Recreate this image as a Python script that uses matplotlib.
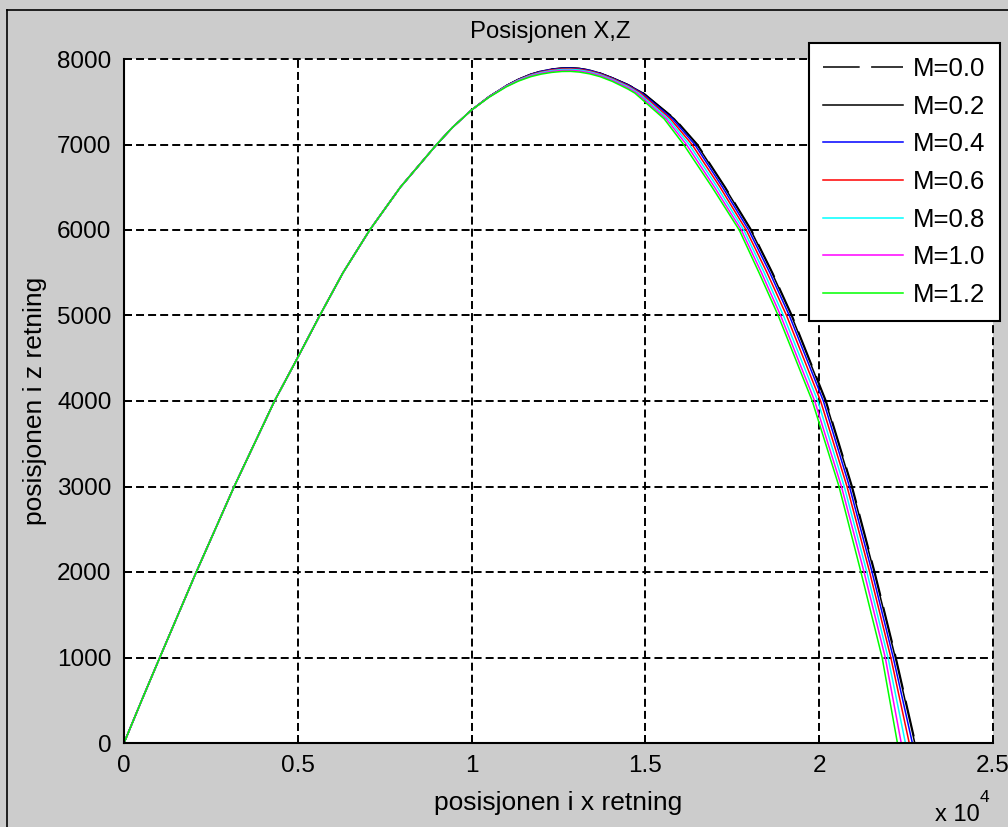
import matplotlib

matplotlib.use("Agg")

import matplotlib.pyplot as plt
from matplotlib.lines import Line2D

plt.rcParams["font.family"] = ["Liberation Sans", "DejaVu Sans"]
plt.rcParams["font.size"] = 17.5

W, H = 1008, 827
FIG_GRAY = "#cccccc"

labels = ["M=0.0", "M=0.2", "M=0.4", "M=0.6", "M=0.8", "M=1.0", "M=1.2"]
colors = ["k", "k", "#0000ff", "#ff0000", "#00ffff", "#ff00ff", "#00ff00"]
styles = [(0, (24, 7.5)), "-", "-", "-", "-", "-", "-"]

# rising part, identical for all M
asc_x = [0, 520, 1030, 2080, 3170, 4330, 5000, 5632, 6300, 7069, 7950, 8994, 9450, 10000]
asc_z = [0, 510, 1000, 2000, 3000, 4000, 4510, 5000, 5500, 6000, 6500, 7000, 7200, 7404]

# around the top (same x grid, height per M)
top_x = [10500, 11000, 11350, 11700, 12000, 12300, 12600, 12850, 13100, 13400, 13700, 14050, 14500]
top_z = [
    [7559, 7689, 7763, 7822, 7858, 7882, 7894, 7896, 7890, 7870, 7835, 7780, 7700],
    [7559, 7689, 7763, 7821, 7857, 7881, 7893, 7895, 7889, 7869, 7834, 7779, 7699],
    [7558, 7688, 7761, 7819, 7855, 7878, 7890, 7892, 7886, 7866, 7831, 7776, 7695],
    [7557, 7686, 7758, 7815, 7849, 7872, 7884, 7886, 7879, 7859, 7825, 7770, 7687],
    [7556, 7683, 7754, 7809, 7842, 7864, 7876, 7878, 7871, 7850, 7816, 7761, 7677],
    [7554, 7679, 7748, 7802, 7833, 7855, 7866, 7867, 7860, 7839, 7806, 7751, 7664],
    [7552, 7675, 7742, 7793, 7823, 7843, 7854, 7855, 7847, 7826, 7793, 7738, 7648],
]

# falling part (same heights, distance per M)
desc_z = [7600, 7300, 7000, 6500, 6000, 5500, 5000, 4000, 3000, 2000, 1000, 0]
desc_x = [
    [14950, 15850, 16500, 17300, 18050, 18660, 19220, 20200, 20950, 21600, 22210, 22770],
    [14940, 15830, 16480, 17280, 18030, 18640, 19200, 20180, 20930, 21580, 22190, 22750],
    [14900, 15780, 16420, 17220, 17970, 18580, 19140, 20120, 20870, 21520, 22130, 22680],
    [14860, 15720, 16340, 17150, 17900, 18500, 19060, 20040, 20800, 21450, 22060, 22590],
    [14810, 15660, 16260, 17070, 17830, 18420, 18970, 19960, 20720, 21370, 21980, 22480],
    [14760, 15600, 16180, 16990, 17760, 18340, 18890, 19870, 20640, 21290, 21900, 22360],
    [14700, 15540, 16100, 16920, 17700, 18270, 18820, 19800, 20570, 21200, 21810, 22250],
]

xticks = [0, 5000, 10000, 15000, 20000, 25000]
xticklabels = ["0", "0.5", "1", "1.5", "2", "2.5"]
yticks = [0, 1000, 2000, 3000, 4000, 5000, 6000, 7000, 8000]

fig = plt.figure(figsize=(W / 100, H / 100), dpi=100, facecolor=FIG_GRAY)
ax = fig.add_axes([124 / W, 1 - 743 / H, 869 / W, 684 / H])
ax.set_facecolor("white")

for i, lab in enumerate(labels):
    xs = asc_x + top_x + desc_x[i]
    zs = asc_z + top_z[i] + desc_z
    ax.plot(xs, zs, color=colors[i], linestyle=styles[i], linewidth=1.1, label=lab)

ax.set_xlim(0, 25000)
ax.set_ylim(0, 8000)
ax.set_xticks(xticks)
ax.set_xticklabels(xticklabels)
ax.set_yticks(yticks)

ax.grid(True, color="black", linestyle=(0, (4.1, 2.1)), linewidth=1.4)
for gl in ax.get_xgridlines() + ax.get_ygridlines():
    gl.set_clip_on(False)
for side in ["top", "right"]:
    ax.spines[side].set_visible(False)
for side in ["left", "bottom"]:
    ax.spines[side].set_linewidth(1.5)
ax.tick_params(direction="in", length=6, width=1.2, pad=9, colors="black", labelsize=17.5)

ax.set_title("Posisjonen X,Z", pad=15, fontsize=17.2, x=0.49)
ax.set_xlabel("posisjonen i x retning", labelpad=10, fontsize=19)
ax.set_ylabel("posisjonen i z retning", labelpad=7, fontsize=19)

fig.text(935 / W, 1 - 815 / H, "x 10", ha="left", va="center", fontsize=17)
fig.text(980 / W, 1 - 797 / H, "4", ha="left", va="center", fontsize=12.5)

leg = fig.legend(
    loc="upper left",
    bbox_to_anchor=(809 / W, 1 - 43 / H),
    borderaxespad=0,
    frameon=True,
    fancybox=False,
    framealpha=1,
    edgecolor="black",
    handlelength=3.1,
    handletextpad=0.4,
    borderpad=0.55,
    labelspacing=0.53,
    fontsize=18.5,
)
leg.get_frame().set_linewidth(1.5)

# screenshot window border
fig.add_artist(Line2D([7 / W, 7 / W], [0, 1 - 10 / H], color="black", linewidth=1.2))
fig.add_artist(Line2D([7 / W, 1], [1 - 10 / H, 1 - 10 / H], color="black", linewidth=1.2))

fig.savefig("out.png", dpi=100, facecolor=FIG_GRAY)
